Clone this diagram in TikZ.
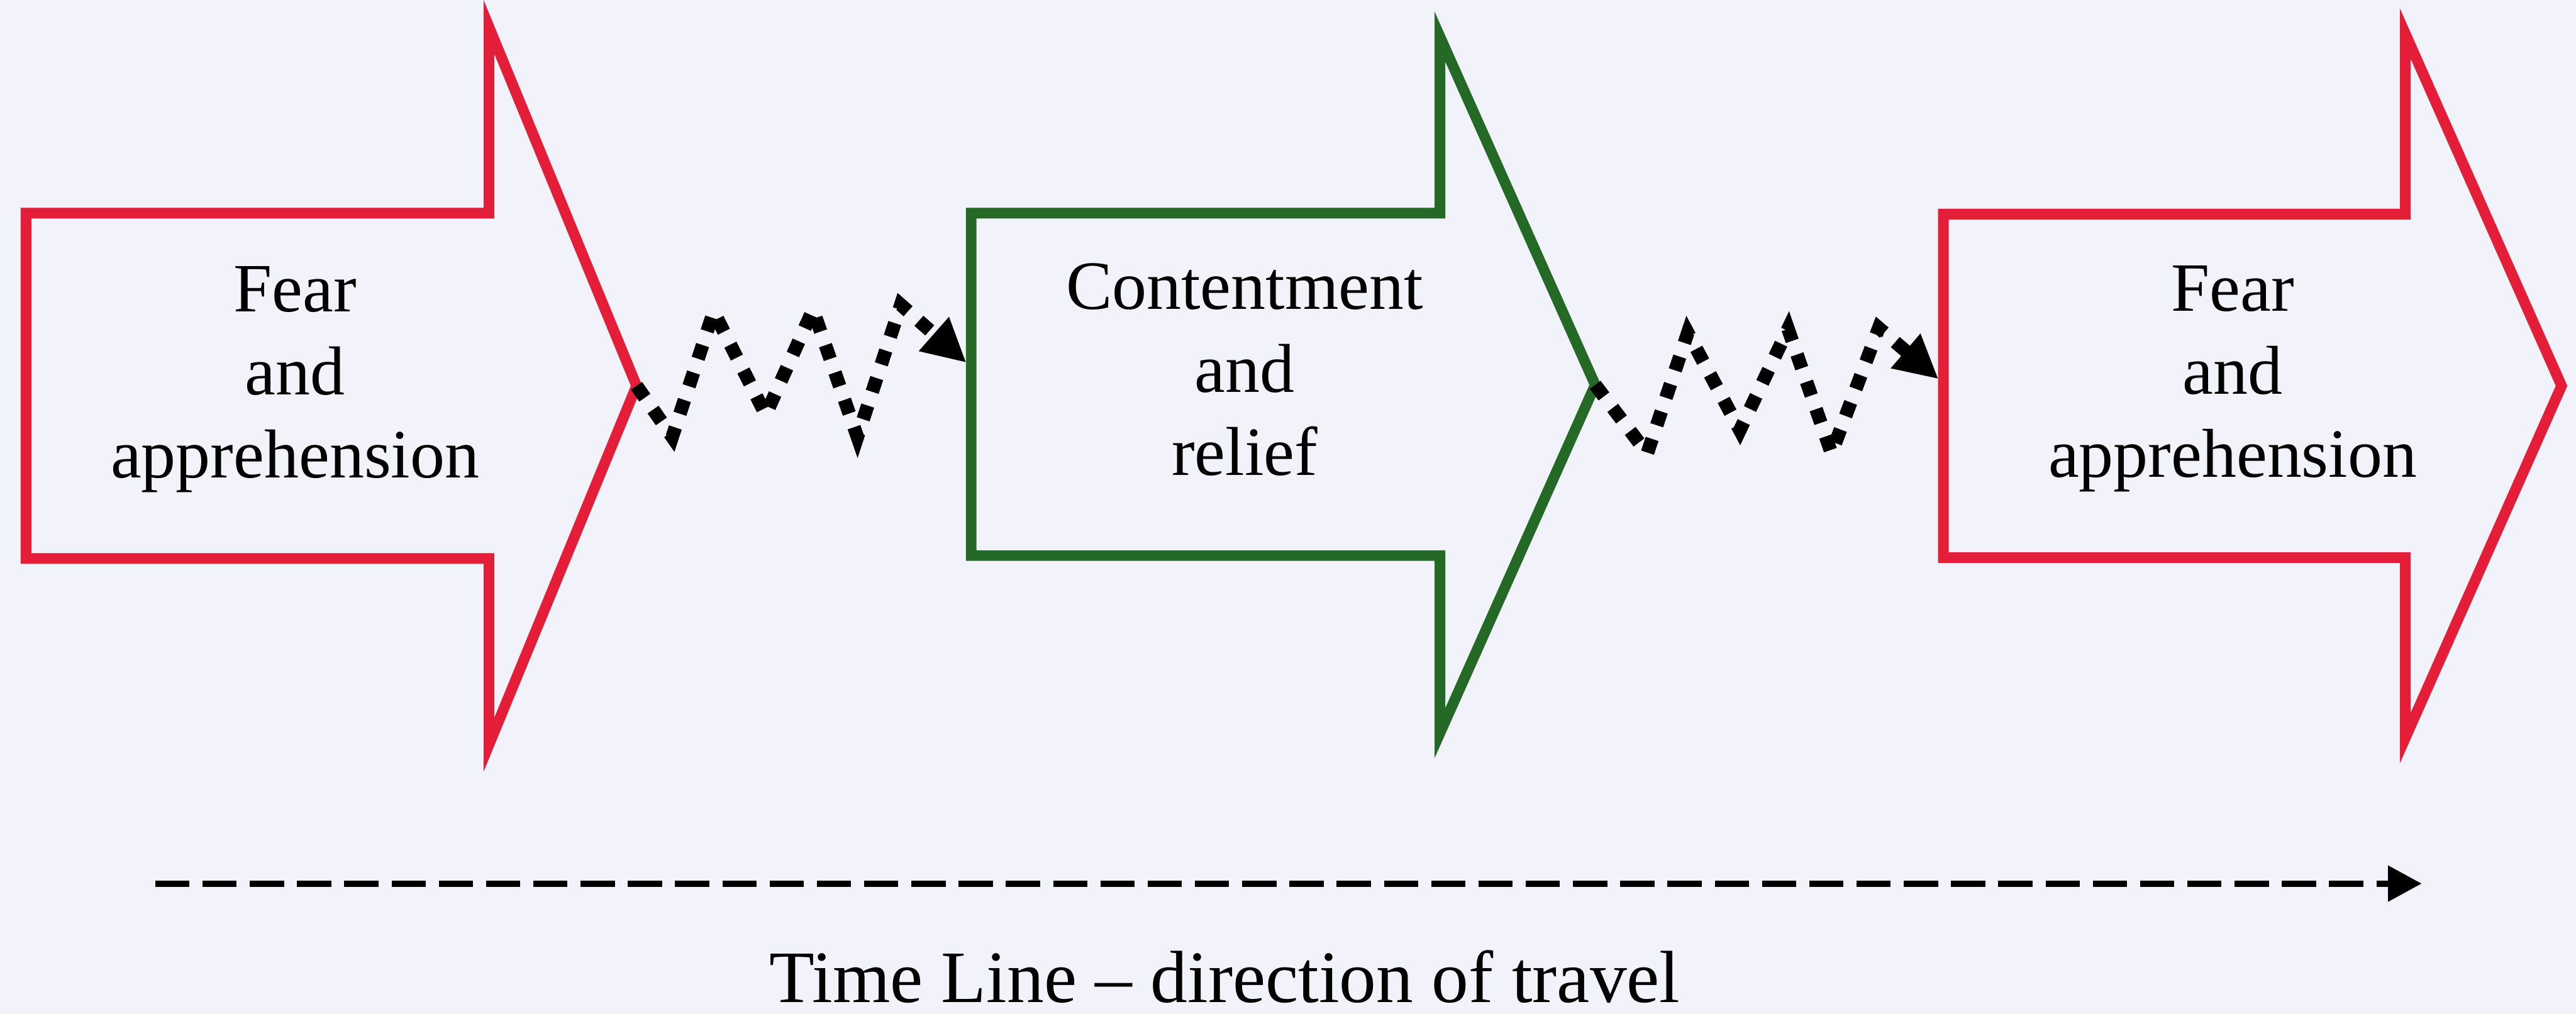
\documentclass[tikz,border=0pt]{standalone}
\usepackage{fontspec}
\setmainfont{Liberation Serif}
\usetikzlibrary{arrows.meta}
\definecolor{fearred}{RGB}{228,30,56}
\definecolor{calmgreen}{RGB}{36,106,38}
\definecolor{paper}{RGB}{241,242,250}
\begin{document}
\begin{tikzpicture}[
  mood/.style={line width=0.11cm},
  moodtext/.style={font=\fontsize{20.4}{24.5}\selectfont,align=center},
  wiggle/.style={line width=0.14cm,dash pattern=on 0.15cm off 0.15cm,-{Triangle[length=0.45cm,width=0.44cm]}},
  timeline/.style={line width=0.065cm,dash pattern=on 0.355cm off 0.135cm,-{Triangle[length=0.35cm,width=0.36cm]}}]
\fill[paper] (0,0) rectangle (26.71,10.51);
\useasboundingbox (0,0) rectangle (26.71,10.51);
% the three block arrows
\draw[fearred,mood] (0.27,8.3) -- (5.07,8.3) -- (5.07,10.23) -- (6.6,6.51) -- (5.07,2.79) -- (5.07,4.72) -- (0.27,4.72) -- cycle;
\draw[calmgreen,mood] (10.07,8.3) -- (14.93,8.3) -- (14.93,10.13) -- (16.54,6.52) -- (14.93,2.91) -- (14.93,4.75) -- (10.07,4.75) -- cycle;
\draw[fearred,mood] (20.15,8.29) -- (24.94,8.29) -- (24.94,10.16) -- (26.56,6.51) -- (24.94,2.86) -- (24.94,4.73) -- (20.15,4.73) -- cycle;
\node[moodtext] (fearA) at (3.06,6.575) {Fear\\and\\apprehension};
\node[moodtext] (calm) at (12.905,6.675) {Contentment\\and\\relief};
\node[moodtext] (fearB) at (23.15,6.58) {Fear\\and\\apprehension};
\coordinate (fearA tip) at (6.6,6.51);
\coordinate (calm in) at (10.02,6.75);
\coordinate (calm tip) at (16.54,6.52);
\coordinate (fearB in) at (20.1,6.58);
% zigzag steps between the moods
\draw[wiggle] (fearA tip) -- (6.97,5.98) -- (7.4,7.28) -- (7.94,6.21) -- (8.43,7.3) -- (8.89,5.98) -- (9.34,7.35) -- (calm in);
\draw[wiggle] (calm tip) -- (17.08,5.81) -- (17.5,7.06) -- (18.04,6.05) -- (18.54,7.1) -- (18.99,5.81) -- (19.48,7.11) -- (fearB in);
% time line
\coordinate (time start) at (1.61,1.35);
\coordinate (time end) at (25.11,1.35);
\draw[timeline] (time start) -- (time end);
\node[font=\fontsize{21.8}{26}\selectfont,anchor=base] (timetext) at (12.7,0.12) {Time Line -- direction of travel};
\end{tikzpicture}
\end{document}
